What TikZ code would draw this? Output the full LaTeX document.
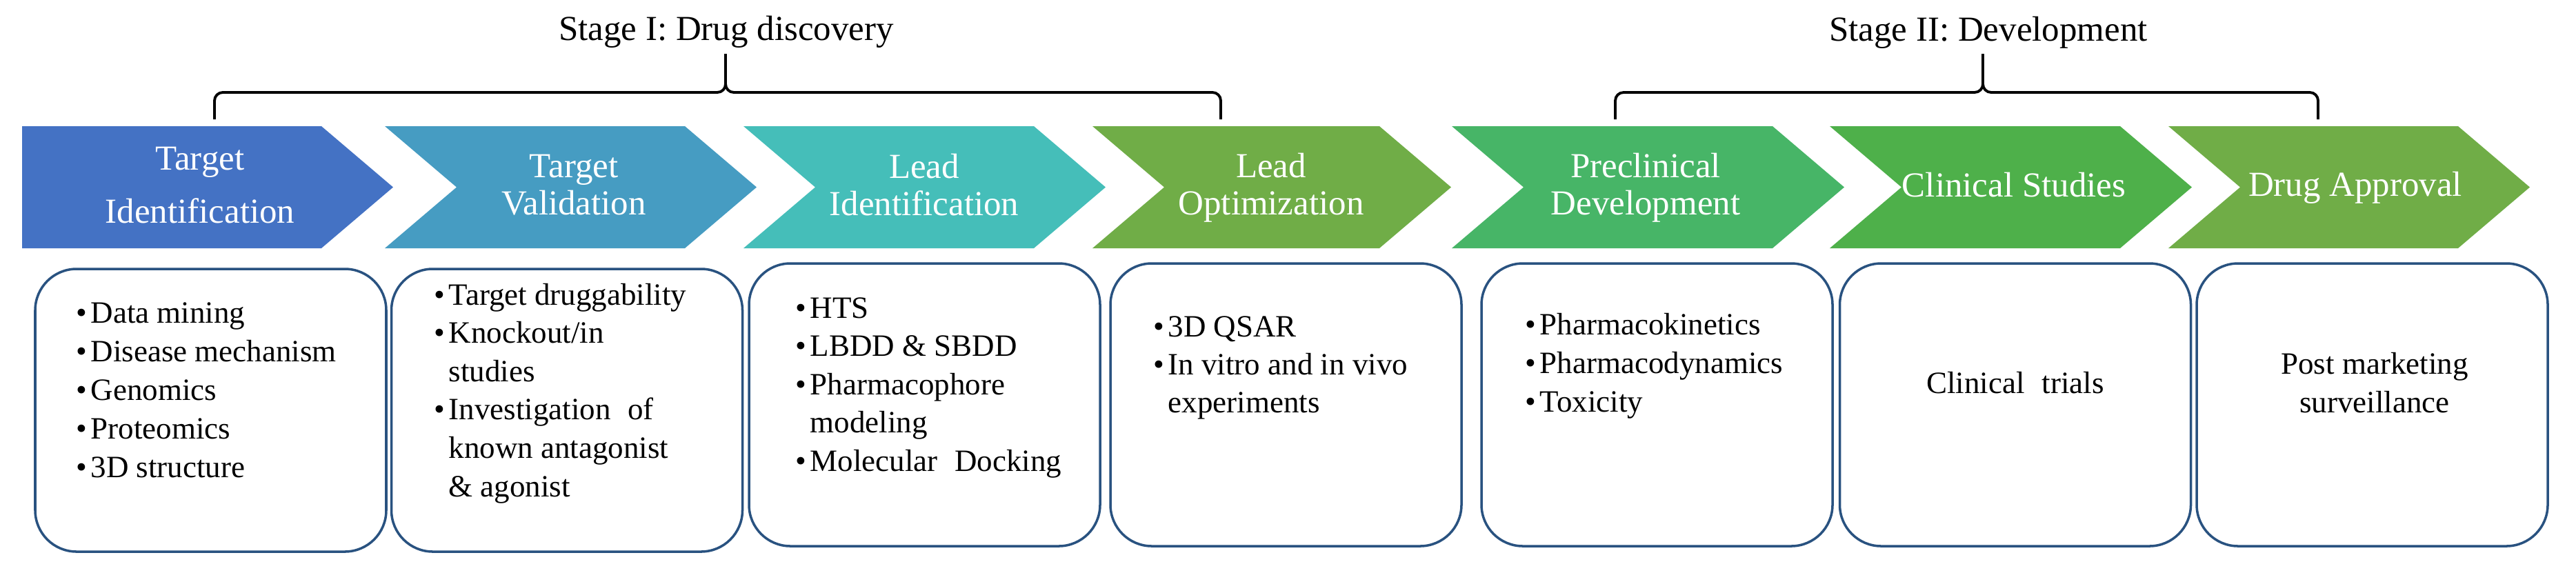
\documentclass[tikz,border=0pt]{standalone}
\usepackage{fontspec}
\setmainfont{Liberation Serif}
\usetikzlibrary{positioning}
\definecolor{cA}{RGB}{68,114,196}
\definecolor{cB}{RGB}{70,156,194}
\definecolor{cC}{RGB}{69,190,185}
\definecolor{cD}{RGB}{112,173,71}
\definecolor{cE}{RGB}{71,181,103}
\definecolor{cF}{RGB}{78,176,74}
\definecolor{rim}{RGB}{41,82,128}
\newcommand{\blt}{\makebox[0.21cm][l]{\textbullet}}
\newcommand{\ind}{\hspace*{0.21cm}}
\tikzset{
 chevtext/.style={text=white, align=center, inner sep=0, font=\fontsize{14.5}{15.4}\selectfont},
 stagebox/.style={draw=rim, line width=1pt, rounded corners=0.6cm, fill=white,
  minimum width=5.09cm, minimum height=4.10cm, inner sep=0},
 item/.style={anchor=base west, inner sep=0, font=\fontsize{12.8}{15.9}\selectfont},
 brace/.style={line width=1.1pt, black},
 stagetext/.style={anchor=base, inner sep=0, font=\fontsize{14.5}{17}\selectfont}
}

\begin{document}
\begin{tikzpicture}

\useasboundingbox (0,0) rectangle (37.35,-8.30);

% chevrons
\foreach \l/\w/\n/\col in 
  {0.32/4.34/0/cA, 5.58/4.35/1.04/cB, 10.78/4.21/1.04/cC, 15.84/4.16/1.04/cD,
   21.05/4.65/1.04/cE, 26.53/4.21/1.04/cF, 31.44/4.20/1.04/cD}
\fill [\col] (\l,-1.83) -- ++(\w,0) -- ++(1.04,-0.885) -- ++(-1.04,-0.885)
   -- ++(-\w,0) -- ++(\n,0.885) -- cycle;

\node [chevtext, font=\fontsize{14.5}{21.9}\selectfont] (tid) at (2.90,-2.69) {Target\\Identification};
\node [chevtext] (tval) at (8.32,-2.68) {Target\\Validation};
\node [chevtext] (lid) at (13.40,-2.68) {Lead\\Identification};
\node [chevtext] (lopt) at (18.43,-2.72) {Lead\\Optimization};
\node [chevtext] (pre) at (23.86,-2.72) {Preclinical\\Development};
\node [chevtext] (clin) at (29.20,-2.68) {Clinical Studies};
\node [chevtext] (appr) at (34.15,-2.72) {Drug Approval};

% braces and stage titles
\foreach \a/\m/\b in {3.11/10.52/17.70, 23.42/28.75/33.61}
\draw [brace] (\a,-1.73) -- (\a,-1.46) to [out=90, in=180] (\a+0.12,-1.34)
  -- (\m-0.12,-1.34) to [out=0, in=-90] (\m,-1.22) -- (\m,-0.78)
  (\m,-1.22) to [out=-90, in=180] (\m+0.12,-1.34) -- (\b-0.12,-1.34)
  to [out=0, in=90] (\b,-1.46) -- (\b,-1.73);

\node [stagetext] (stI) at (10.53,-0.58) {Stage I: Drug discovery};
\node [stagetext] (stII) at (28.83,-0.59) {Stage II: Development};

% boxes
\foreach \x/\y/\name in {3.055/5.95/bA, 8.22/5.95/bB, 13.405/5.87/bC, 18.645/5.87/bD,
  24.025/5.87/bE, 29.22/5.87/bF, 34.395/5.87/bG}
\node [stagebox] (\name) at (\x,-\y) {};

\foreach \t [count=\k] in {Data mining, Disease mechanism, Genomics, Proteomics, 3D structure}
  \node [item] (tA\k) at (1.10,{-4.68-0.56*(\k-1)}) {\blt\t};

\foreach \t [count=\k] in {{\blt Target druggability}, {\blt Knockout/in}, {\ind studies},
  {\blt Investigation\hspace{0.3em} of}, {\ind known antagonist}, {\ind \& agonist}}
  \node [item] (tB\k) at (6.29,{-4.42-0.556*(\k-1)}) {\t};

\foreach \t [count=\k] in {{\blt HTS}, {\blt LBDD \& SBDD}, {\blt Pharmacophore},
  {\ind modeling}, {\blt Molecular\hspace{0.3em} Docking}}
  \node [item] (tC\k) at (11.53,{-4.61-0.555*(\k-1)}) {\t};

\foreach \t [count=\k] in {{\blt 3D QSAR}, {\blt In vitro and in vivo}, {\ind experiments}}
  \node [item] (tD\k) at (16.72,{-4.88-0.55*(\k-1)}) {\t};

\foreach \t [count=\k] in {Pharmacokinetics, Pharmacodynamics, Toxicity}
  \node [item] (tE\k) at (22.11,{-4.85-0.56*(\k-1)}) {\blt\t};

\node [item, anchor=base] (tF) at (29.22,-5.70) {Clinical\hspace{0.3em} trials};
\node [item, anchor=base] (tG1) at (34.43,-5.42) {Post marketing};
\node [item, anchor=base] (tG2) at (34.43,-5.98) {surveillance};

\end{tikzpicture}
\end{document}
